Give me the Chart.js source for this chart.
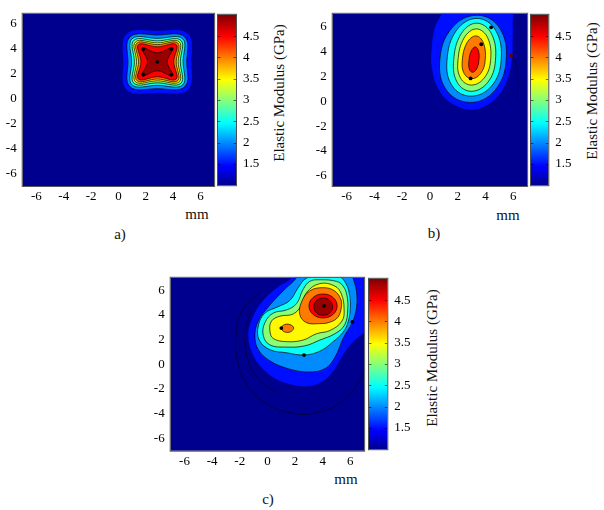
<!DOCTYPE html>
<html><head><meta charset="utf-8">
<script src="https://cdn.jsdelivr.net/npm/chart.js@4.4.1/dist/chart.umd.min.js"></script>
<style>
html,body{margin:0;padding:0;background:#fff;}
body{width:604px;height:510px;position:relative;overflow:hidden;font-family:"Liberation Serif","DejaVu Serif","Times New Roman",Times,serif;}
canvas{position:absolute;}
.lbl{position:absolute;font-size:15px;color:#111;white-space:nowrap;transform:translate(-50%,-50%);line-height:1;}
.rot{position:absolute;font-size:15px;color:#111;white-space:nowrap;transform:translate(-50%,-50%) rotate(-90deg);line-height:1;}
</style></head><body>
<canvas id="pa" width="216" height="204" style="left:0px;top:0px"></canvas>
<canvas id="ca" width="50" height="200" style="left:217px;top:0px"></canvas>
<canvas id="pb" width="219" height="204" style="left:310px;top:0px"></canvas>
<canvas id="cb" width="50" height="200" style="left:530px;top:0px"></canvas>
<canvas id="pc" width="218" height="205" style="left:148px;top:264px"></canvas>
<canvas id="cc" width="50" height="200" style="left:368px;top:264px"></canvas>
<div class="rot" style="left:279px;top:93px">Elastic Modulus (GPa)</div>
<div class="rot" style="left:592px;top:91px">Elastic Modulus (GPa)</div>
<div class="rot" style="left:432px;top:358px">Elastic Modulus (GPa)</div>
<div class="lbl" style="left:197px;top:214px">mm</div>
<div class="lbl" style="left:508px;top:215px">mm</div>
<div class="lbl" style="left:346px;top:479px">mm</div>
<div class="lbl" style="left:120px;top:234px">a)</div>
<div class="lbl" style="left:434px;top:233px">b)</div>
<div class="lbl" style="left:268px;top:499px">c)</div>
<script>
// ---------- data (mm, GPa) ----------
const axisTicks = [-6, -4, -2, 0, 2, 4, 6];
const cbTicks = [1.5, 2, 2.5, 3, 3.5, 4, 4.5];
const cbMin = 1, cbMax = 5;

// Panel a contours (level value -> polygon)
const aLevels = [1.5, 2, 2.5, 3, 3.5, 4, 4.5, 4.9];
const aC1 = [[5.35,2.95],[5.1,5.2],[2.85,5.45],[0.6,5.2],[0.35,2.95],[0.6,0.7],[2.85,0.45],[5.1,0.7]];
const aC2 = [[5.0,2.95],[4.85,4.95],[2.85,5.1],[0.85,4.95],[0.7,2.95],[0.85,0.95],[2.85,0.8],[4.85,0.95]];
const aC3 = [[4.73,2.95],[4.7,4.8],[2.85,4.83],[1.0,4.8],[0.97,2.95],[1.0,1.1],[2.85,1.07],[4.7,1.1]];
const aC4 = [[4.53,2.95],[4.57,4.67],[2.85,4.63],[1.13,4.67],[1.17,2.95],[1.13,1.23],[2.85,1.27],[4.57,1.23]];
const aC5 = [[4.37,2.95],[4.45,4.55],[2.85,4.47],[1.25,4.55],[1.33,2.95],[1.25,1.35],[2.85,1.43],[4.45,1.35]];
const aC6 = [[4.23,2.95],[4.35,4.45],[2.85,4.33],[1.35,4.45],[1.47,2.95],[1.35,1.45],[2.85,1.57],[4.35,1.45]];
const aC7 = [[4.05,2.95],[4.23,4.33],[2.85,4.15],[1.47,4.33],[1.65,2.95],[1.47,1.57],[2.85,1.75],[4.23,1.57]];
const aC8 = [[3.57,2.95],[3.97,4.07],[2.85,3.67],[1.73,4.07],[2.13,2.95],[1.73,1.83],[2.85,2.23],[3.97,1.83]];
const aDots = [[1.82,3.97],[3.88,3.97],[2.85,2.95],[1.82,1.93],[3.88,1.93]];

// Panel b contours
const bLevels = [1.5, 2, 2.5, 3, 3.5, 4, 4.5];
const bC1 = [[0.9,7.5],[0.82,7.0],[0.34,5.86],[0.11,4.08],[0.11,2.81],[0.47,1.28],[1.18,0.14],[2.14,-0.49],[3.09,-0.70],[4.05,-0.37],[5.01,0.52],[5.61,1.79],[5.92,3.32],[5.97,4.84],[5.97,6.37],[5.9,7.5]];
const bC2 = [[3.42,6.88],[5.02,5.86],[5.49,3.25],[4.66,0.84],[2.92,-0.10],[1.22,0.84],[0.71,3.25],[1.58,5.86]];
const bC3 = [[3.39,6.63],[4.73,5.68],[5.13,3.25],[4.43,1.20],[2.95,0.40],[1.62,1.20],[1.23,3.25],[1.92,5.68]];
const bC4 = [[3.37,6.25],[4.43,5.41],[4.72,3.25],[4.15,1.48],[2.97,0.79],[1.98,1.48],[1.71,3.25],[2.26,5.41]];
const bC5 = [[3.35,5.79],[4.16,5.08],[4.37,3.25],[3.90,1.84],[2.99,1.29],[2.21,1.84],[2.02,3.25],[2.47,5.08]];
const bC6 = [[3.32,5.23],[3.85,4.68],[3.98,3.25],[3.65,2.21],[3.02,1.80],[2.47,2.21],[2.33,3.25],[2.67,4.68]];
const bC7 = [[3.27,4.34],[3.50,4.03],[3.53,3.25],[3.36,2.57],[3.07,2.31],[2.84,2.57],[2.81,3.25],[2.98,4.03]];
const bLine = [[5.85,3.65],[6.2,3.0],[6.33,1.8],[6.28,0.1]];
const bDots = [[4.41,5.92],[3.70,4.56],[2.93,1.82]];
const bDotsRed = [[5.85,3.65]];

// Panel c contours
const cLevels = [1.5, 2, 2.5, 3, 3.5, 4, 4, 4.5, 4.9];
const cC1 = [[1.8,7.5],[1.75,7.0],[0.66,6.18],[-0.42,5.02],[-1.15,3.60],[-1.39,2.32],[-1.15,1.03],[-0.54,-0.13],[0.54,-1.16],[1.75,-1.67],[2.83,-1.80],[3.80,-1.54],[4.64,-0.77],[5.24,0.26],[5.72,1.16],[6.33,1.93],[7.05,2.57],[7.6,3.0],[7.6,7.5]];
const cC2 = [[2.2,7.5],[2.1,7.0],[1.14,5.94],[0.18,4.79],[-0.66,3.50],[-0.90,2.34],[-0.66,1.18],[0.18,0.28],[1.51,-0.36],[2.95,-0.62],[4.16,-0.36],[4.88,0.54],[5.48,2.09],[6.16,3.42],[6.45,4.6],[6.45,5.9],[6.2,7.0],[6.1,7.5]];
const cC3 = [[2.83,6.97],[2.23,6.2],[1.63,5.17],[0.78,4.66],[-0.18,4.14],[-0.66,3.11],[-0.59,1.96],[0.18,1.18],[1.39,0.93],[2.66,0.75],[3.80,1.06],[4.76,1.83],[5.48,2.60],[5.85,3.45],[6.0,4.5],[5.95,5.6],[5.7,6.5],[5.2,7.1],[4.0,7.15]];
const cC4 = [[3.07,6.71],[2.59,6.07],[2.11,4.91],[1.39,4.40],[0.42,4.14],[-0.18,3.37],[-0.30,2.34],[0.18,1.57],[1.39,1.39],[2.71,1.49],[3.80,1.96],[4.88,2.47],[5.6,3.2],[5.82,4.5],[5.75,5.6],[5.48,6.33],[5.0,6.71],[3.80,6.84]];
const cC5 = [[3.80,6.53],[4.88,6.33],[5.35,5.7],[5.55,4.5],[5.4,3.5],[4.52,2.73],[3.55,2.47],[2.59,1.96],[1.39,1.83],[0.42,2.09],[0.18,2.73],[0.30,3.50],[0.90,3.89],[1.87,4.07],[2.47,4.79],[2.83,5.81]];
const cC6 = [[4.04,6.2],[4.85,5.95],[5.3,5.3],[5.36,4.66],[5.1,3.8],[4.5,3.4],[3.80,3.29],[2.83,3.37],[2.35,4.01],[2.47,5.04],[3.07,5.94]];
const cC6b = [[1.90,2.95],[1.70,3.18],[1.40,3.25],[1.10,3.12],[1.0,2.93],[1.15,2.68],[1.45,2.58],[1.75,2.68]];
const cC7 = [[5.05,4.72],[4.75,5.41],[4.03,5.69],[3.31,5.41],[3.01,4.72],[3.31,4.03],[4.03,3.75],[4.75,4.03]];
const cC8 = [[4.72,4.66],[4.52,5.16],[4.04,5.36],[3.56,5.16],[3.36,4.66],[3.56,4.16],[4.04,3.96],[4.52,4.16]];
const cArcOuter = [[-0.6,5.8],[-1.87,4.25],[-2.28,2.06],[-2.11,0.0],[-1.39,-1.80],[-0.06,-3.21],[1.87,-3.99],[3.55,-3.93],[5.12,-3.21],[6.21,-2.06],[6.93,-0.77],[7.2,0.2]];
const cArcInner = [[-1.2,4.2],[-1.6,2.6],[-1.55,1.0],[-1.1,-0.5],[-0.3,-1.6],[0.6,-2.2]];
const cDots = [[4.10,4.73],[1.01,2.93],[6.15,3.42],[2.65,0.74]];

// ---------- styling helpers ----------
const jetStops = [[0,[0,0,143]],[0.111,[0,0,255]],[0.365,[0,255,255]],[0.619,[255,255,0]],[0.873,[255,0,0]],[1,[128,0,0]]];
function jet(v){
  const t = Math.max(0, Math.min(1, (v - cbMin) / (cbMax - cbMin)));
  for (let i = 1; i < jetStops.length; i++) {
    const [t1, c1] = jetStops[i], [t0, c0] = jetStops[i-1];
    if (t <= t1) {
      const f = (t - t0) / (t1 - t0);
      return 'rgb(' + c0.map((c, k) => Math.round(c + (c1[k] - c) * f)).join(',') + ')';
    }
  }
  return 'rgb(128,0,0)';
}
const NAVY = 'rgb(0,0,143)';
const SERIF = '"Liberation Serif", "DejaVu Serif", "Times New Roman", Times, serif';
Chart.defaults.font.family = SERIF;
Chart.defaults.font.size = 13;
Chart.defaults.color = '#000';

const toXY = pts => pts.map(p => ({x: p[0], y: p[1]}));
function contourDS(pts, level, outer){
  return {data: toXY(pts), closedShape: true, fill: 'shape', backgroundColor: jet(level),
    borderColor: outer ? 'rgba(0,0,80,0.35)' : 'rgba(0,0,0,0.85)', borderWidth: outer ? 0.6 : 0.8,
    pointRadius: 0, pointHoverRadius: 0, pointHitRadius: 0, tension: 0.4, showLine: true};
}
function lineDS(pts){
  return {data: toXY(pts), fill: false, borderColor: 'rgba(0,0,40,0.75)', borderWidth: 0.9,
    pointRadius: 0, pointHoverRadius: 0, pointHitRadius: 0, tension: 0.4, showLine: true};
}
function dotDS(pts, color){
  return {data: toXY(pts), showLine: false, fill: false, pointRadius: 1.9, pointBackgroundColor: color,
    pointBorderWidth: 0, borderWidth: 0, pointHoverRadius: 0};
}

const closeLoops = {id: 'closeLoops', afterDatasetsUpdate(chart){
  chart.data.datasets.forEach((ds, i) => {
    if (ds.closedShape) { const m = chart.getDatasetMeta(i); if (m.dataset) { m.dataset._loop = true; m.dataset._fullLoop = true; } }
  });
}};
const plotBg = {id: 'plotBg',
  beforeDatasetsDraw(chart){ const {ctx, chartArea: a} = chart; ctx.save(); ctx.fillStyle = NAVY; ctx.fillRect(a.left, a.top, a.right - a.left, a.bottom - a.top); ctx.restore(); },
  afterDatasetsDraw(chart){ const {ctx, chartArea: a} = chart; ctx.save(); ctx.strokeStyle = 'rgba(70,70,70,0.9)'; ctx.lineWidth = 1; ctx.strokeRect(a.left - 0.5, a.top - 0.5, a.right - a.left + 1, a.bottom - a.top + 1); ctx.restore(); }
};

function makePlot(id, cfg, datasets){
  datasets.forEach((d, i) => { d.order = datasets.length - i; });
  new Chart(document.getElementById(id), {
    type: 'line',
    data: {datasets},
    options: {
      responsive: false, animation: false, devicePixelRatio: 1,
      layout: {padding: {top: cfg.padTop, right: cfg.padRight, left: 0, bottom: 0}},
      plugins: {legend: {display: false}, tooltip: {enabled: false}},
      scales: {
        x: {type: 'linear', min: cfg.xMin, max: cfg.xMax,
          afterBuildTicks: s => { s.ticks = axisTicks.map(v => ({value: v})); },
          ticks: {padding: 3, maxRotation: 0, autoSkip: false, callback: v => String(v)},
          grid: {display: false, drawTicks: false}, border: {display: false},
          afterFit: s => { s.height = cfg.xH; }},
        y: {type: 'linear', min: cfg.yMin, max: cfg.yMax,
          afterBuildTicks: s => { s.ticks = axisTicks.map(v => ({value: v})); },
          ticks: {padding: 6, autoSkip: false, callback: v => String(v)},
          grid: {display: false, drawTicks: false}, border: {display: false},
          afterFit: s => { s.width = cfg.yW; }}
      }
    },
    plugins: [closeLoops, plotBg]
  });
}

const cbPlugin = {id: 'cbFill', beforeDatasetsDraw(chart){
  const {ctx, chartArea: a, scales: {y}} = chart;
  const g = ctx.createLinearGradient(0, y.getPixelForValue(cbMin), 0, y.getPixelForValue(cbMax));
  jetStops.forEach(([t, c]) => g.addColorStop(t, 'rgb(' + c.join(',') + ')'));
  ctx.save();
  ctx.fillStyle = g; ctx.fillRect(a.left, a.top, a.right - a.left, a.bottom - a.top);
  ctx.strokeStyle = 'rgba(0,0,0,0.55)'; ctx.lineWidth = 1;
  cbTicks.forEach(v => { const py = Math.round(y.getPixelForValue(v)) + 0.5;
    ctx.beginPath(); ctx.moveTo(a.left, py); ctx.lineTo(a.left + 2.5, py); ctx.moveTo(a.right, py); ctx.lineTo(a.right - 2.5, py); ctx.stroke(); });
  ctx.strokeStyle = 'rgba(60,60,60,0.9)';
  ctx.strokeRect(a.left - 0.5, a.top - 0.5, a.right - a.left + 1, a.bottom - a.top + 1);
  ctx.restore();
}};
function makeColorbar(id, cfg){
  new Chart(document.getElementById(id), {
    type: 'scatter',
    data: {datasets: [{data: []}]},
    options: {
      responsive: false, animation: false, devicePixelRatio: 1,
      layout: {padding: {top: cfg.padTop, bottom: cfg.padBottom, left: 1, right: 0}},
      plugins: {legend: {display: false}, tooltip: {enabled: false}},
      scales: {
        x: {display: false, min: 0, max: 1},
        y: {position: 'right', min: cbMin, max: cbMax,
          afterBuildTicks: s => { s.ticks = cbTicks.map(v => ({value: v})); },
          ticks: {padding: 7, autoSkip: false, callback: v => String(v)},
          grid: {display: false, drawTicks: false}, border: {display: false},
          afterFit: s => { s.width = cfg.yW; }}
      }
    },
    plugins: [cbPlugin]
  });
}

// ---------- panels ----------
makePlot('pa', {padTop: 5.3, padRight: 1.7, xH: 18, yW: 22.7, xMin: -7, xMax: 7, yMin: -7, yMax: 6.8}, [
  contourDS(aC1, aLevels[0], true), contourDS(aC2, aLevels[1]), contourDS(aC3, aLevels[2]), contourDS(aC4, aLevels[3]),
  contourDS(aC5, aLevels[4]), contourDS(aC6, aLevels[5]), contourDS(aC7, aLevels[6]), contourDS(aC8, aLevels[7]),
  dotDS(aDots, '#000')
]);
makePlot('pb', {padTop: 5, padRight: 1.3, xH: 18, yW: 22.7, xMin: -7, xMax: 7, yMin: -6.8, yMax: 7}, [
  lineDS(bLine),
  contourDS(bC1, bLevels[0], true), contourDS(bC2, bLevels[1]), contourDS(bC3, bLevels[2]), contourDS(bC4, bLevels[3]),
  contourDS(bC5, bLevels[4]), contourDS(bC6, bLevels[5]), contourDS(bC7, bLevels[6]),
  dotDS(bDots, '#000'), dotDS(bDotsRed, '#6a0000')
]);
makePlot('pc', {padTop: 5.3, padRight: 1.7, xH: 18.3, yW: 22.7, xMin: -7, xMax: 7, yMin: -7, yMax: 7}, [
  lineDS(cArcOuter), lineDS(cArcInner),
  contourDS(cC1, cLevels[0], true), contourDS(cC2, cLevels[1]), contourDS(cC3, cLevels[2]), contourDS(cC4, cLevels[3]),
  contourDS(cC5, cLevels[4]), contourDS(cC6, cLevels[5]), contourDS(cC6b, cLevels[6]), contourDS(cC7, cLevels[7]), contourDS(cC8, cLevels[8]),
  dotDS(cDots, '#000')
]);
makeColorbar('ca', {padTop: 5.3, padBottom: 14, yW: 31});
makeColorbar('cb', {padTop: 5, padBottom: 14, yW: 31.7});
makeColorbar('cc', {padTop: 5.3, padBottom: 13.3, yW: 30.7});
</script>
</body></html>
